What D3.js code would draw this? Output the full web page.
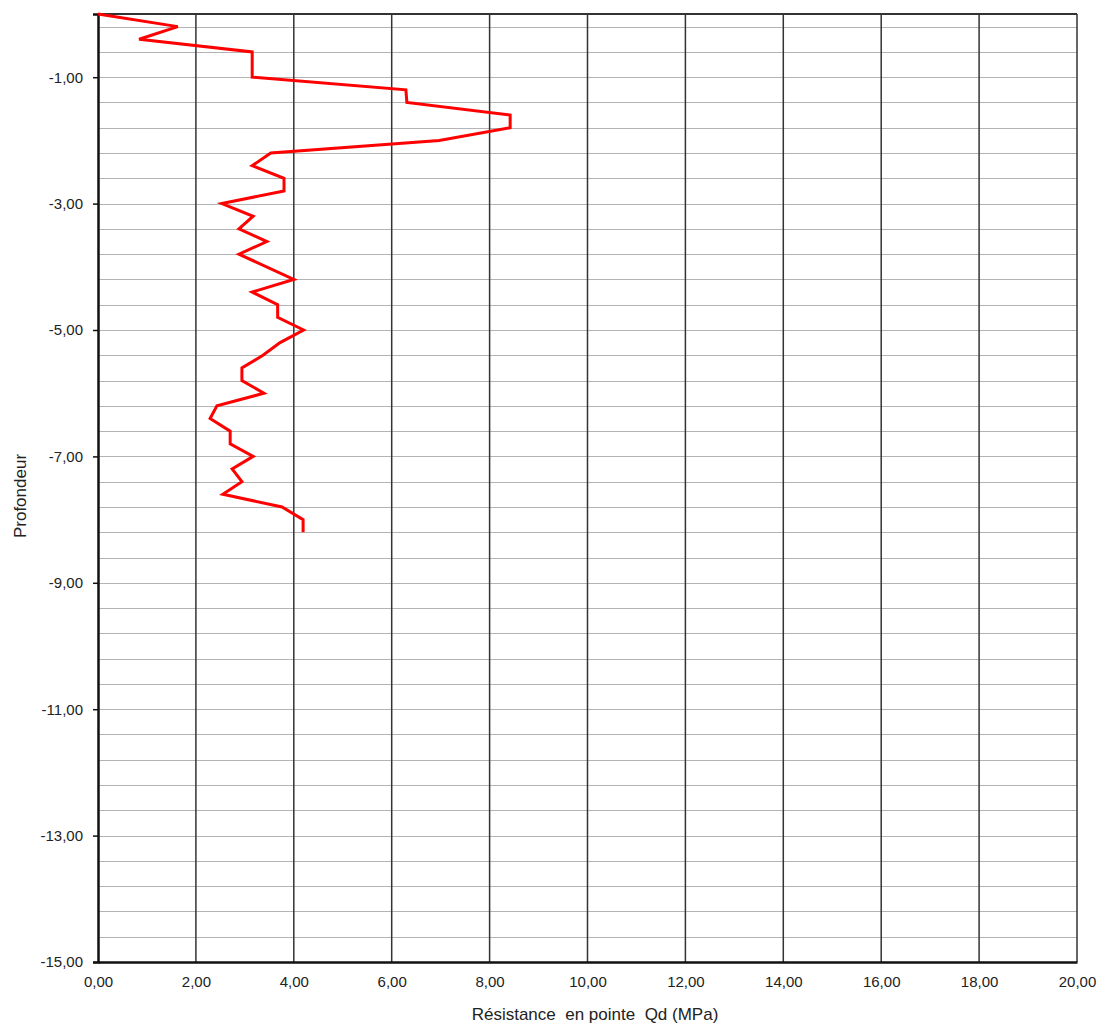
<!DOCTYPE html>
<html><head><meta charset="utf-8">
<script src="https://cdn.jsdelivr.net/npm/d3@7"></script>
<style>body{margin:0;background:#fff}svg{display:block}text{font-family:"Liberation Sans",Arial,sans-serif}</style>
</head><body>
<script>
const depths = [0,-0.2,-0.4,-0.6,-1.0,-1.2,-1.4,-1.6,-1.8,-2.0,-2.2,-2.4,-2.6,-2.8,-3.0,-3.2,-3.4,-3.6,-3.8,-4.2,-4.4,-4.6,-4.8,-5.0,-5.2,-5.4,-5.6,-5.8,-6.0,-6.2,-6.4,-6.6,-6.8,-7.0,-7.2,-7.4,-7.6,-7.8,-8.0,-8.2];
const qd = [0,1.63,0.84,3.15,3.15,6.29,6.31,8.42,8.42,6.97,3.53,3.15,3.80,3.80,2.53,3.17,2.88,3.45,2.88,4.0,3.15,3.67,3.67,4.2,3.72,3.37,2.94,2.94,3.39,2.43,2.29,2.70,2.70,3.17,2.74,2.94,2.55,3.76,4.19,4.19];
const xTicks = [0,2,4,6,8,10,12,14,16,18,20];
const yTicks = [-1,-3,-5,-7,-9,-11,-13,-15];
const xTitle = "Résistance  en pointe  Qd (MPa)";
const yTitle = "Profondeur";

const W=1099,H=1028, L=98, R=1077, T=14, B=962;
const svg=d3.select("body").append("svg").attr("width",W).attr("height",H);
const x=d3.scaleLinear().domain([0,20]).range([L,R]);
const y=d3.scaleLinear().domain([0,-15]).range([T,B]);
const fmt=d=>d.toFixed(2).replace(".",",");

// horizontal minor grid every 0.4
const hg=d3.range(1,38).map(k=>-15+0.4*k);
svg.append("g").selectAll("line").data(hg).join("line")
 .attr("x1",L).attr("x2",R).attr("y1",d=>Math.round(y(d))+0.5).attr("y2",d=>Math.round(y(d))+0.5)
 .attr("stroke","#b4b4b4").attr("stroke-width",1.2);
// vertical grid
svg.append("g").selectAll("line").data(xTicks.slice(1,-1)).join("line")
 .attr("x1",d=>x(d)).attr("x2",d=>x(d)).attr("y1",T).attr("y2",B)
 .attr("stroke","#333").attr("stroke-width",1.5);
// border
svg.append("line").attr("x1",R).attr("x2",R).attr("y1",T).attr("y2",B).attr("stroke","#333").attr("stroke-width",1.5);
svg.append("line").attr("x1",L).attr("x2",R).attr("y1",T).attr("y2",T).attr("stroke","#333").attr("stroke-width",2);

// axes
const xa=svg.append("g").attr("transform",`translate(0,${B})`)
 .call(d3.axisBottom(x).tickValues(xTicks).tickFormat(fmt).tickSize(0).tickPadding(14));
const ya=svg.append("g").attr("transform",`translate(${L},0)`)
 .call(d3.axisLeft(y).tickValues(yTicks).tickFormat(fmt).tickSize(5).tickPadding(10));
[xa,ya].forEach(a=>{a.select(".domain").attr("stroke","#111").attr("stroke-width",2.5);
 a.selectAll("text").attr("font-size",15).attr("fill","#222");a.selectAll(".tick line").attr("stroke","#111").attr("stroke-width",1.5);});

// line
svg.append("path").datum(depths.map((d,i)=>[qd[i],d]))
 .attr("d",d3.line().x(d=>x(d[0])).y(d=>y(d[1])))
 .attr("fill","none").attr("stroke","#ff0000").attr("stroke-width",3).attr("stroke-linejoin","miter");

svg.append("text").attr("x",595).attr("y",1020).attr("text-anchor","middle").attr("font-size",17).attr("fill","#222")
 .style("white-space","pre").text(xTitle);
svg.append("text").attr("transform",`translate(26,${496}) rotate(-90)`).attr("text-anchor","middle").attr("font-size",17).attr("fill","#222").text(yTitle);
</script>
</body></html>
